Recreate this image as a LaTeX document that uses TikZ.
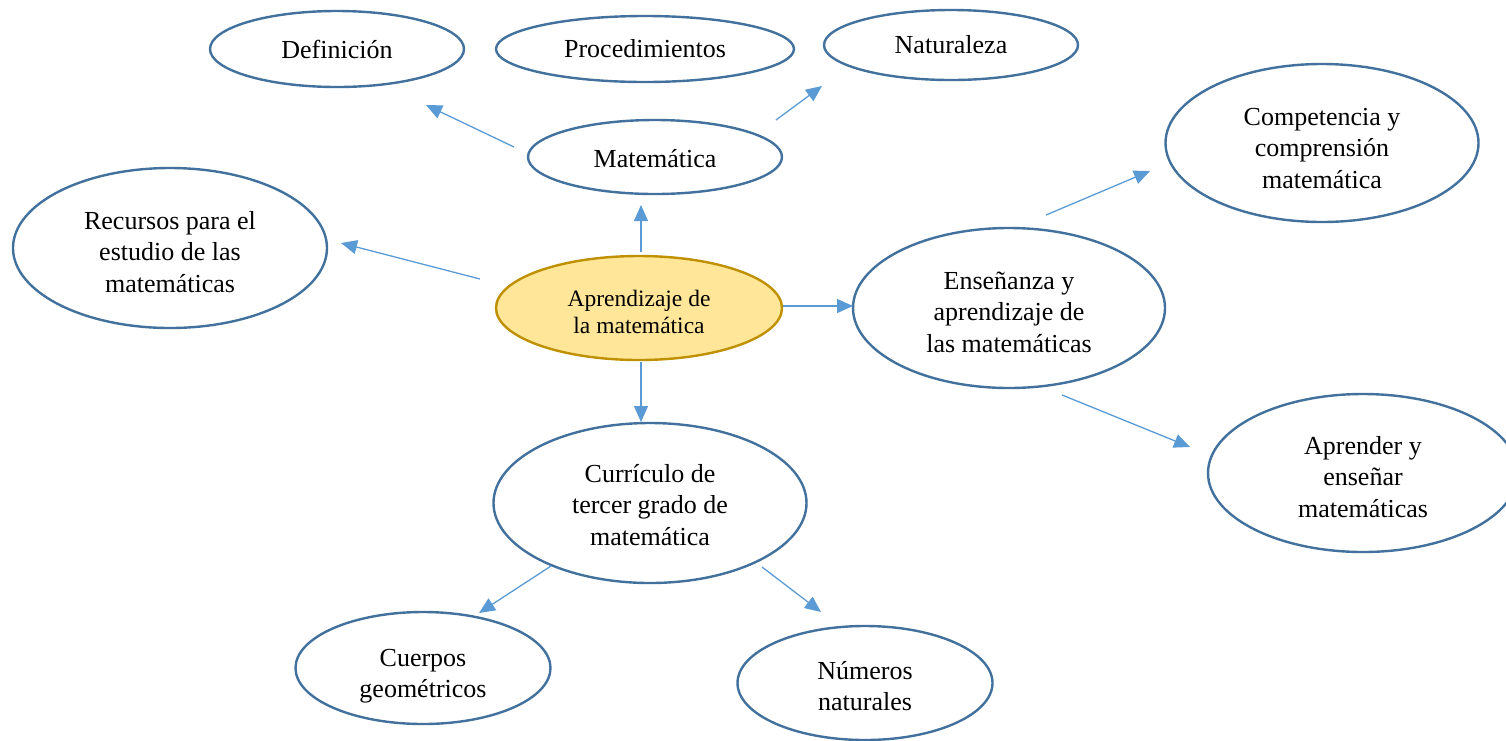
\documentclass[tikz,border=0pt]{standalone}
\usepackage{fontspec}
\setmainfont{Liberation Serif}
\usetikzlibrary{shapes.geometric,arrows.meta}
\definecolor{ebord}{HTML}{41719C}
\definecolor{arrc}{HTML}{5B9BD5}
\definecolor{cfill}{HTML}{FFE699}
\definecolor{cbord}{HTML}{BF9000}
\newcommand\lowr[1]{\rule{0pt}{#1pt}}
\tikzset{
  oval/.style={ellipse, draw=ebord, line width=2.4pt, fill=white, inner sep=0pt, align=center,
    font=\fontsize{26}{31.5}\selectfont},
  centeroval/.style={oval, draw=cbord, fill=cfill, font=\fontsize{23.5}{27}\selectfont},
  link/.style={draw=arrc, line width=1.3pt, -{Triangle[length=16pt,width=14pt]}},
}
\begin{document}
\begin{tikzpicture}[x=1pt,y=-1pt]
\path[use as bounding box] (0,0) rectangle (1506,740);
% nodes
\node[oval, minimum width=254pt, minimum height=76pt] (def) at (337,49) {Definición};
\node[oval, minimum width=298pt, minimum height=66pt] (proc) at (645,49) {Procedimientos};
\node[oval, minimum width=254pt, minimum height=70pt] (nat) at (951,45) {Naturaleza};
\node[oval, minimum width=254pt, minimum height=74pt] (mat) at (655,157) {\lowr{21}Matemática};
\node[oval, minimum width=314pt, minimum height=160pt] (rec) at (170,248) {\lowr{26}Recursos para el\\estudio de las\\matemáticas};
\node[centeroval, minimum width=286pt, minimum height=104pt] (apr) at (639,308) {\lowr{24}Aprendizaje de\\la matemática};
\node[oval, minimum width=312pt, minimum height=160pt] (ens) at (1009,308) {\lowr{26}Enseñanza y\\aprendizaje de\\las matemáticas};
\node[oval, minimum width=313pt, minimum height=158pt] (comp) at (1322,143) {\lowr{28}Competencia y\\comprensión\\matemática};
\node[oval, minimum width=310pt, minimum height=158pt] (apre) at (1363,473) {\lowr{26}Aprender y\\enseñar\\matemáticas};
\node[oval, minimum width=313pt, minimum height=160pt] (cur) at (650,503) {\lowr{22}Currículo de\\tercer grado de\\matemática};
\node[oval, minimum width=255pt, minimum height=112pt] (cue) at (423,668) {\lowr{34}Cuerpos\\geométricos};
\node[oval, minimum width=255pt, minimum height=114pt] (num) at (865,683) {\lowr{24}Números\\naturales};
% connector end points
\coordinate (m1) at (514,147); \coordinate (d1) at (426,105);
\coordinate (m2) at (776,120); \coordinate (n1) at (822,86);
\coordinate (a1) at (641,252); \coordinate (m3) at (641,205);
\coordinate (a2) at (480,279); \coordinate (r1) at (341,243);
\coordinate (a3) at (783,306); \coordinate (e1) at (853,306);
\coordinate (a4) at (641,362); \coordinate (c1) at (641,422);
\coordinate (e2) at (1046,215); \coordinate (k1) at (1150,171);
\coordinate (e3) at (1062,395); \coordinate (p1) at (1190,447);
\coordinate (c2) at (551,566); \coordinate (q1) at (479,613);
\coordinate (c3) at (762,567); \coordinate (u1) at (821,612);
% connectors
\draw[link] (m1) -- (d1);
\draw[link] (m2) -- (n1);
\draw[link] (a1) -- (m3);
\draw[link] (a2) -- (r1);
\draw[link] (a3) -- (e1);
\draw[link] (a4) -- (c1);
\draw[link] (e2) -- (k1);
\draw[link] (e3) -- (p1);
\draw[link] (c2) -- (q1);
\draw[link] (c3) -- (u1);
\end{tikzpicture}
\end{document}
